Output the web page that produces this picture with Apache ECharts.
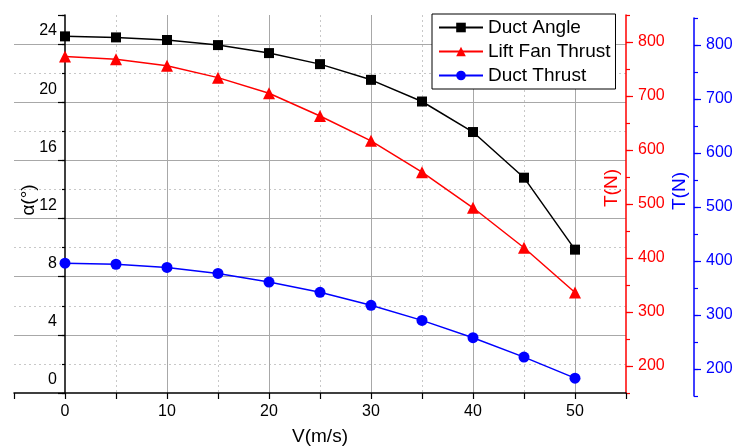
<!DOCTYPE html>
<html><head><meta charset="utf-8">
<script src="https://cdn.jsdelivr.net/npm/echarts@6/dist/echarts.min.js"></script>
<style>html,body{margin:0;padding:0;background:#fff}#c{width:733px;height:447px}</style>
</head><body><div id="c"></div>
<script>
const speeds = [0, 5, 10, 15, 20, 25, 30, 35, 40, 45, 50];
const ductAngle = [24.53, 24.46, 24.28, 23.93, 23.38, 22.62, 21.54, 20.05, 17.95, 14.81, 9.86];
const liftFanThrust = [773, 768, 756, 734, 705, 663, 617, 559, 493, 419, 336];
const ductThrust = [396, 394, 388, 377, 361, 342, 318, 290, 258, 222, 183];
const xTickLabels = [0, 10, 20, 30, 40, 50];
const angleTickLabels = [0, 4, 8, 12, 16, 20, 24];
const thrustTickLabels = [200, 300, 400, 500, 600, 700, 800];

const FONT = 'Liberation Sans, Arial, sans-serif';
const SOLID = '#a8a8a8', DOT = '#c8c8c8', NONE = 'rgba(0,0,0,0)';
const RED = '#ff0000', BLUE = '#0000ff';
function ticks(min, max, step) {
  const r = [];
  for (let v = min; v <= max + 1e-9; v += step) r.push(Math.round(v * 1e6) / 1e6);
  if (r[r.length - 1] < max) r.push(max);
  return r;
}
const X_MIN = -5, X_MAX = 55, A_MIN = 0, A_MAX = 26, T_MIN = 150, T_MAX = 850;
const GRID_LEFT = 14, GRID_RIGHT = 107;
// left value axis sits at V = 0: shift it in from the grid edge
const Y_AXIS_SHIFT = -Math.round((0 - X_MIN) / (X_MAX - X_MIN) * (733 - GRID_LEFT - GRID_RIGHT));

const xSolid = ticks(X_MIN, X_MAX, 5).map(v => (v % 10 === 0 && v > 0 && v < X_MAX) ? SOLID : NONE);
const xDot = ticks(X_MIN, X_MAX, 5).map(v => (Math.abs(v % 10) === 5 && v > X_MIN && v < X_MAX) ? DOT : NONE);
const aSolid = ticks(A_MIN, A_MAX, 4).map(v => (v > 0 && v < A_MAX) ? SOLID : NONE);
const aDot = ticks(A_MIN, A_MAX, 2).map(v => (v % 4 === 2 && v < A_MAX) ? DOT : NONE);

const txt = { fontFamily: FONT, fontSize: 16, color: '#000' };
const hide = { axisLine: { show: false }, axisTick: { show: false }, axisLabel: { show: false } };

const chart = echarts.init(document.getElementById('c'), null, { renderer: 'canvas' });
chart.setOption({
  animation: false,
  backgroundColor: '#fff',
  grid: [
    { left: GRID_LEFT, right: GRID_RIGHT, top: 15, bottom: 54, outerBoundsMode: 'none', containLabel: false },
    { left: GRID_LEFT, right: GRID_RIGHT, top: 18, bottom: 51, outerBoundsMode: 'none', containLabel: false }
  ],
  legend: {
    orient: 'vertical', left: 432, top: 14,
    backgroundColor: '#fff', borderColor: '#000', borderWidth: 1, borderRadius: 0,
    padding: [4, 5, 4, 6], itemGap: 5, itemWidth: 44, itemHeight: 12,
    textStyle: { fontFamily: FONT, fontSize: 19, color: '#000' },
    data: ['Duct Angle', 'Lift Fan Thrust', 'Duct Thrust']
  },
  xAxis: [
    {
      type: 'value', gridIndex: 0, min: X_MIN, max: X_MAX, interval: 5,
      name: 'V(m/s)', nameLocation: 'middle', nameGap: 34, nameMoveOverlap: false,
      nameTextStyle: { fontFamily: FONT, fontSize: 19, color: '#000' },
      axisLine: { onZero: false, lineStyle: { color: '#000', width: 1.5 } },
      axisTick: { length: 6, lineStyle: { color: '#000', width: 1.2 } },
      axisLabel: Object.assign({ margin: 11, formatter: v => xTickLabels.includes(v) ? String(v) : '' }, txt),
      splitLine: { show: true, lineStyle: { color: xSolid, width: 1, type: 'solid' } }
    },
    Object.assign({
      type: 'value', gridIndex: 0, min: X_MIN, max: X_MAX, interval: 5,
      splitLine: { show: true, lineStyle: { color: xDot, width: 1, type: [2, 3] } }
    }, hide, { axisLine: { show: false, onZero: false } }),
    Object.assign({ type: 'value', gridIndex: 1, min: X_MIN, max: X_MAX, interval: 5, splitLine: { show: false } },
      hide, { axisLine: { show: false, onZero: false } })
  ],
  yAxis: [
    {
      type: 'value', gridIndex: 0, position: 'left', offset: Y_AXIS_SHIFT, min: A_MIN, max: A_MAX, interval: 4,
      name: 'α(°)', nameLocation: 'middle', nameRotate: 90, nameGap: 27, nameMoveOverlap: false,
      nameTextStyle: { fontFamily: FONT, fontSize: 19, color: '#000', padding: [0, 0, 0, 8] },
      axisLine: { show: true, onZero: false, lineStyle: { color: '#000', width: 1.5 } },
      axisTick: { show: true, length: 7, lineStyle: { color: '#000', width: 1.2 } },
      axisLabel: Object.assign({ margin: 8, verticalAlign: 'bottom', lineHeight: 26,
        formatter: v => angleTickLabels.includes(v) ? String(v) : '' }, txt),
      splitLine: { show: true, lineStyle: { color: aSolid, width: 1, type: 'solid' } }
    },
    {
      type: 'value', gridIndex: 0, position: 'left', offset: Y_AXIS_SHIFT, min: A_MIN, max: A_MAX, interval: 2,
      axisLine: { show: false, onZero: false },
      axisTick: { show: true, length: 3, lineStyle: { color: '#000', width: 1.2 } },
      axisLabel: { show: false },
      splitLine: { show: true, lineStyle: { color: aDot, width: 1, type: [2, 3] } }
    },
    {
      type: 'value', gridIndex: 0, position: 'right', min: T_MIN, max: T_MAX, interval: 50,
      name: 'T(N)', nameLocation: 'middle', nameRotate: 90, nameGap: -24, nameMoveOverlap: false,
      nameTextStyle: { fontFamily: FONT, fontSize: 19, color: RED, padding: [0, 0, 0, 32] },
      axisLine: { show: true, onZero: false, lineStyle: { color: RED, width: 1.5 } },
      axisTick: { show: true, length: 7, customValues: thrustTickLabels, lineStyle: { color: RED, width: 1.2 } },
      axisLabel: { margin: 12, fontFamily: FONT, fontSize: 16, color: RED, customValues: thrustTickLabels,
        formatter: v => thrustTickLabels.includes(v) ? String(v) : '' },
      splitLine: { show: false }
    },
    {
      type: 'value', gridIndex: 0, position: 'right', min: T_MIN, max: T_MAX, interval: 50,
      axisLine: { show: false, onZero: false },
      axisTick: { show: true, length: 4, lineStyle: { color: RED, width: 1.2 } },
      axisLabel: { show: false }, splitLine: { show: false }
    },
    {
      type: 'value', gridIndex: 1, position: 'right', offset: 68, min: T_MIN, max: T_MAX, interval: 50,
      name: 'T(N)', nameLocation: 'middle', nameRotate: 90, nameGap: -24, nameMoveOverlap: false,
      nameTextStyle: { fontFamily: FONT, fontSize: 19, color: BLUE, padding: [0, 0, 0, 32] },
      axisLine: { show: true, onZero: false, lineStyle: { color: BLUE, width: 1.5 } },
      axisTick: { show: true, length: 7, customValues: thrustTickLabels, lineStyle: { color: BLUE, width: 1.2 } },
      axisLabel: { margin: 12, fontFamily: FONT, fontSize: 16, color: BLUE, customValues: thrustTickLabels,
        formatter: v => thrustTickLabels.includes(v) ? String(v) : '' },
      splitLine: { show: false }
    },
    {
      type: 'value', gridIndex: 1, position: 'right', offset: 68, min: T_MIN, max: T_MAX, interval: 50,
      axisLine: { show: false, onZero: false },
      axisTick: { show: true, length: 4, lineStyle: { color: BLUE, width: 1.2 } },
      axisLabel: { show: false }, splitLine: { show: false }
    }
  ],
  series: [
    {
      name: 'Duct Angle', type: 'line', xAxisIndex: 0, yAxisIndex: 0,
      data: speeds.map((x, i) => [x, ductAngle[i]]),
      symbol: 'rect', symbolSize: 10, color: '#000',
      lineStyle: { color: '#000', width: 1.5 }, itemStyle: { color: '#000' }, z: 5
    },
    {
      name: 'Lift Fan Thrust', type: 'line', xAxisIndex: 0, yAxisIndex: 2,
      data: speeds.map((x, i) => [x, liftFanThrust[i]]),
      symbol: 'triangle', symbolSize: 12, color: RED,
      lineStyle: { color: RED, width: 1.5 }, itemStyle: { color: RED }, z: 4
    },
    {
      name: 'Duct Thrust', type: 'line', xAxisIndex: 2, yAxisIndex: 4,
      data: speeds.map((x, i) => [x, ductThrust[i]]),
      symbol: 'circle', symbolSize: 11, color: BLUE,
      lineStyle: { color: BLUE, width: 1.5 }, itemStyle: { color: BLUE }, z: 3
    }
  ]
});
</script></body></html>
